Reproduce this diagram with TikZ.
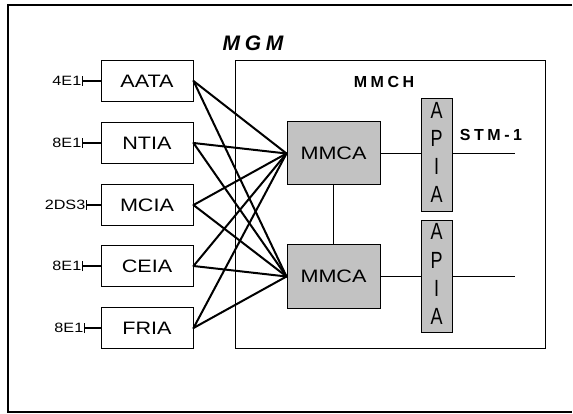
\documentclass[tikz,border=0pt]{standalone}
\usepackage{fontspec}
\usepackage{graphicx}
\setmainfont{Liberation Sans}
\newfontfamily\widefont[FakeStretch=1.2]{Liberation Sans}
\newfontfamily\spacedfont[LetterSpace=22]{Liberation Sans}
\usetikzlibrary{arrows.meta}

\begin{document}
\begin{tikzpicture}[x=1pt,y=-1pt,
  card/.style={draw,line width=1pt,minimum width=92pt,minimum height=41pt,
    inner sep=0pt,font=\widefont\fontsize{18}{21.6}\selectfont},
  mmca/.style={draw,line width=1pt,fill=black!24,minimum width=93pt,
    minimum height=63pt,inner sep=0pt,font=\widefont\fontsize{18}{21.6}\selectfont},
  apia/.style={draw,line width=1pt,fill=black!24,minimum width=31pt,
    minimum height=104pt,inner sep=0pt,font=\fontsize{18}{21.6}\selectfont},
  port/.style={anchor=east,inner sep=0.5pt,font=\widefont\fontsize{13.5}{16}\selectfont},
  feed/.style={line width=1.3pt,{Bar[width=10pt,line width=1.1pt]}-},
  mesh/.style={line width=2pt,line cap=round},
  link/.style={line width=1.4pt}]
 \useasboundingbox (0,0) rectangle (573,414);

 % frame
 \coordinate (f1) at (572,5);
 \coordinate (f2) at (8,5);
 \coordinate (f3) at (8,412);
 \coordinate (f4) at (572,412);
 \draw [line width=1.6pt] (f1) -- (f2) -- (f3) -- (f4);
 \node (mgm) at (253,43) {\spacedfont\bfseries\itshape\fontsize{21}{25}\selectfont MGM};

 % MMCH shelf
 \node (mmch) [draw,line width=1pt,minimum width=310pt,minimum height=287pt] at (390,204.5) {};
 \node (mmchlabel) at (384,82) {\spacedfont\bfseries\fontsize{16}{19}\selectfont MMCH};

 % tributary cards
 \node (aata) [card] at (147,81)  {AATA};
 \node (ntia) [card] at (147,143) {NTIA};
 \node (mcia) [card] at (147,205) {MCIA};
 \node (ceia) [card] at (147,266) {CEIA};
 \node (fria) [card] at (147,328) {FRIA};

 \coordinate (pa) at (82,81);
 \coordinate (pn) at (82,143);
 \coordinate (pm) at (86,205);
 \coordinate (pc) at (82,266);
 \coordinate (pf) at (84,328);
 \node [port] at (pa) {4E1};
 \node [port] at (pn) {8E1};
 \node [port] at (pm) {2DS3};
 \node [port] at (pc) {8E1};
 \node [port] at (pf) {8E1};
 \draw [feed] (pa) -- (aata.west);
 \draw [feed] (pn) -- (ntia.west);
 \draw [feed] (pm) -- (mcia.west);
 \draw [feed] (pc) -- (ceia.west);
 \draw [feed] (pf) -- (fria.west);

 % matrix cards
 \node (mmcaA) [mmca] at (333.5,153.5) {MMCA};
 \node (mmcaB) [mmca] at (333.5,276.5) {MMCA};
 \draw [link] (mmcaA) -- (mmcaB);

 % every card goes to both MMCA
 \draw [mesh] (aata.east) edge (mmcaA.west) edge (mmcaB.west);
 \draw [mesh] (ntia.east) edge (mmcaA.west) edge (mmcaB.west);
 \draw [mesh] (mcia.east) edge (mmcaA.west) edge (mmcaB.west);
 \draw [mesh] (ceia.east) edge (mmcaA.west) edge (mmcaB.west);
 \draw [mesh] (fria.east) edge (mmcaA.west) edge (mmcaB.west);

 % optical interfaces
 \node (apiaA) [apia] at (436.5,155) {\scalebox{1}[1.3]{\begin{tabular}{@{}c@{}}A\\P\\I\\A\end{tabular}}};
 \node (apiaB) [apia] at (436.5,276.5) {\scalebox{1}[1.3]{\begin{tabular}{@{}c@{}}A\\P\\I\\A\end{tabular}}};
 \coordinate (stmA) at (515,153.5);
 \coordinate (stmB) at (515,276.5);
 \draw [link] (mmcaA.east) -- (mmcaA.east -| apiaA.west);
 \draw [link] (mmcaB.east) -- (mmcaB.east -| apiaB.west);
 \draw [link] (stmA -| apiaA.east) -- (stmA);
 \draw [link] (stmB -| apiaB.east) -- (stmB);
 \node (stm) at (491,135) {\spacedfont\bfseries\fontsize{16}{19}\selectfont STM-1};
\end{tikzpicture}
\end{document}
